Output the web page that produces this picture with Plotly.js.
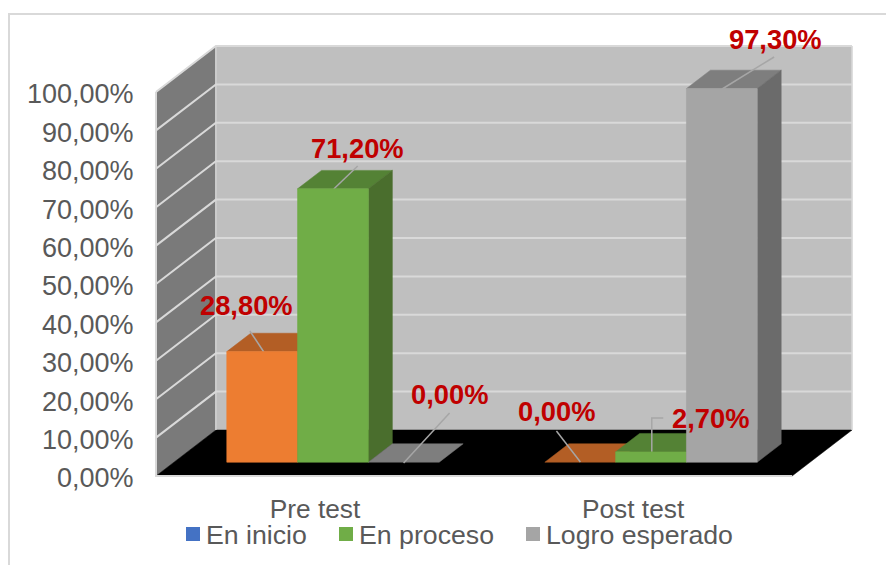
<!DOCTYPE html>
<html>
<head>
<meta charset="utf-8">
<script src="https://cdn.plot.ly/plotly-3.0.1.min.js"></script>
<style>html,body{margin:0;padding:0;background:#fff}#chart{width:886px;height:565px}</style>
</head>
<body>
<div id="chart"></div>
<script>
// ---- data ----
var categories = ['Pre test', 'Post test'];
var legendNames = ['En inicio', 'En proceso', 'Logro esperado'];
var enInicio = [28.8, 0];
var enProceso = [71.2, 2.7];
var logroEsperado = [0, 97.3];
var yTicks = [0, 10, 20, 30, 40, 50, 60, 70, 80, 90, 100];
var yTickLabels = ['0,00%', '10,00%', '20,00%', '30,00%', '40,00%', '50,00%', '60,00%', '70,00%', '80,00%', '90,00%', '100,00%'];

// ---- geometry of the fake 3D box (pixels of the page) ----
var X0 = 156, Y0 = 476, PXU = 3.84, CATW = 318.5, PAD = 6;
var DEPTHX = 60, DEPTHY = 46, D_FRONT = 0.3, D_BACK = 0.7, BARW = 70.9;
var DX = DEPTHX / CATW, DY = DEPTHY / PXU, BW = BARW / CATW;
function xd(px) { return (px - X0) / CATW; }
function yd(py) { return (Y0 - py) / PXU; }
var XMAX = 2 + DX, YMAX = 100 + DY;

var TEXT = '#595959', GRID = '#D9D9D9';
var FONT = 'Liberation Sans, Arial, sans-serif';

// series colours: front, top, side
var seriesStyle = [
  { v: enInicio, front: '#ED7D31', top: '#B35E25', side: '#9A5020' },
  { v: enProceso, front: '#70AD47', top: '#548235', side: '#4A6E2D' },
  { v: logroEsperado, front: '#A5A5A5', top: '#7E7E7E', side: '#6B6B6B' }
];
var legendColors = ['#4472C4', '#70AD47', '#A5A5A5'];

function poly(pts, fill) {
  var d = pts.map(function (p, i) { return (i ? 'L' : 'M') + p[0] + ',' + p[1]; }).join(' ') + ' Z';
  return { type: 'path', path: d, xref: 'x', yref: 'y', layer: 'below', fillcolor: fill, line: { color: fill, width: 0.5 } };
}
function seg(pts, color, w) {
  var d = pts.map(function (p, i) { return (i ? 'L' : 'M') + p[0] + ',' + p[1]; }).join(' ');
  return { type: 'path', path: d, xref: 'x', yref: 'y', layer: 'below', line: { color: color, width: w } };
}

// page frame (page pixels -> paper)
var W = 886, H = 565;
var L = X0 - PAD, T = 46 - PAD, R = W - (852 + PAD), B = H - (Y0 + PAD);
var pw = W - L - R, ph = H - T - B;
function xp(px) { return (px - L) / pw; }
function yp(py) { return (H - B - py) / ph; }

var shapes = [];
// walls and floor
shapes.push(poly([[DX, DY], [XMAX, DY], [XMAX, YMAX], [DX, YMAX]], '#BFBFBF'));
shapes.push(poly([[0, 0], [DX, DY], [DX, YMAX], [0, 100]], '#7A7A7A'));
yTicks.slice(1).forEach(function (v) {
  shapes.push(seg([[0, v], [DX, v + DY], [XMAX, v + DY]], GRID, 2));
});
shapes.push(poly([[0, 0], [2, 0], [XMAX, DY], [DX, DY]], '#000000'));
shapes.push(seg([[0, 100], [0, 0], [2, 0]], GRID, 2));
shapes.push(seg([[XMAX, DY], [XMAX, YMAX]], GRID, 1.5));
shapes.push(seg([[DX, DY], [DX, YMAX]], GRID, 1.5));

// bar tops and sides, computed from the values
var fdx = D_FRONT * DX, fdy = D_FRONT * DY, bdx = D_BACK * DX, bdy = D_BACK * DY;
var ddx = bdx - fdx, ddy = bdy - fdy;
function barLeft(cat, s) { return cat + 0.5 + fdx + (s - 1.5) * BW; }
seriesStyle.forEach(function (st, s) {
  st.v.forEach(function (val, c) {
    var l = barLeft(c, s), r = l + BW, t = fdy + val;
    shapes.push(poly([[l, t], [r, t], [r + ddx, t + ddy], [l + ddx, t + ddy]], st.top));
    if (val > 0) shapes.push(poly([[r, fdy], [r + ddx, fdy + ddy], [r + ddx, t + ddy], [r, t]], st.side));
  });
});

// value labels with leader lines (series, category, label centre px, leader path px)
var LABEL = '#C00000';
var labelSpec = [
  { s: 0, c: 0, cx: 246.5, cy: 305, line: [[250, 331], [264, 352]] },
  { s: 1, c: 0, cx: 357.5, cy: 148, line: [[358, 166], [334, 189]] },
  { s: 2, c: 0, cx: 449, cy: 394, line: [[450, 413], [404, 463]] },
  { s: 0, c: 1, cx: 556, cy: 411, line: [[557, 431], [581, 462]] },
  { s: 1, c: 1, cx: 710, cy: 418, line: [[664, 418], [652.5, 418], [652.5, 452]] },
  { s: 2, c: 1, cx: 775.5, cy: 39, line: [[775, 57], [723, 89]] }
];
function fmt(v) { return v.toFixed(2).replace('.', ',') + '%'; }
var annotations = labelSpec.map(function (l) {
  shapes.push(seg(l.line.map(function (p) { return [xd(p[0]), yd(p[1])]; }), '#A6A6A6', 1.5));
  return {
    x: xp(l.cx), y: yp(l.cy), xref: 'paper', yref: 'paper', showarrow: false, xanchor: 'center', yanchor: 'middle',
    text: '<b>' + fmt(seriesStyle[l.s].v[l.c]) + '</b>', font: { family: FONT, size: 27.3, color: LABEL }
  };
});

shapes.push({
  type: 'path', xref: 'paper', yref: 'paper', layer: 'below', line: { color: GRID, width: 2 },
  path: 'M' + xp(9) + ',' + yp(565) + ' L' + xp(9) + ',' + yp(14) + ' L' + xp(886) + ',' + yp(14)
});
var legendKeyX = [186, 339, 526], legendTextX = [207, 360, 546.5];
legendNames.forEach(function (n, i) {
  shapes.push({
    type: 'rect', xref: 'paper', yref: 'paper', layer: 'below', fillcolor: legendColors[i], line: { width: 0 },
    x0: xp(legendKeyX[i]), x1: xp(legendKeyX[i] + 14), y0: yp(541), y1: yp(527)
  });
  annotations.push({
    x: xp(legendTextX[i]), y: yp(535), xref: 'paper', yref: 'paper', showarrow: false, xanchor: 'left', yanchor: 'middle',
    text: n, xshift: -3, font: { family: FONT, size: 26.7, color: TEXT }
  });
});

// bar fronts
var traces = seriesStyle.map(function (st, s) {
  return {
    type: 'bar', name: legendNames[s], showlegend: false, hoverinfo: 'skip',
    x: categories.map(function (_, c) { return barLeft(c, s) + BW / 2; }),
    y: st.v, base: categories.map(function () { return fdy; }), width: BW,
    marker: { color: st.front, line: { color: st.front, width: st.v.map(function (v) { return v > 0 ? 0.6 : 0; }) } }
  };
});

var layout = {
  width: W, height: H, showlegend: false, barmode: 'overlay',
  paper_bgcolor: '#fff', plot_bgcolor: 'rgba(0,0,0,0)',
  margin: { l: L, r: R, t: T, b: B, pad: 0 },
  font: { family: FONT, color: TEXT },
  xaxis: {
    range: [-PAD / CATW, XMAX + PAD / CATW], tickmode: 'array', tickvals: [0.5, 1.5], ticktext: categories,
    showgrid: false, zeroline: false, showline: false, ticks: 'outside', ticklen: 3, tickcolor: 'rgba(0,0,0,0)',
    tickfont: { family: FONT, size: 26.3, color: TEXT }
  },
  yaxis: {
    range: [-PAD / PXU, YMAX + PAD / PXU], tickmode: 'array', tickvals: yTicks, ticktext: yTickLabels,
    showgrid: false, zeroline: false, showline: false, ticks: 'outside', ticklen: 10, tickcolor: 'rgba(0,0,0,0)',
    tickfont: { family: FONT, size: 27, color: TEXT }, ticklabelshift: 2
  },
  shapes: shapes,
  annotations: annotations
};
Plotly.newPlot('chart', traces, layout, { displayModeBar: false, responsive: false });
</script>
</body>
</html>
